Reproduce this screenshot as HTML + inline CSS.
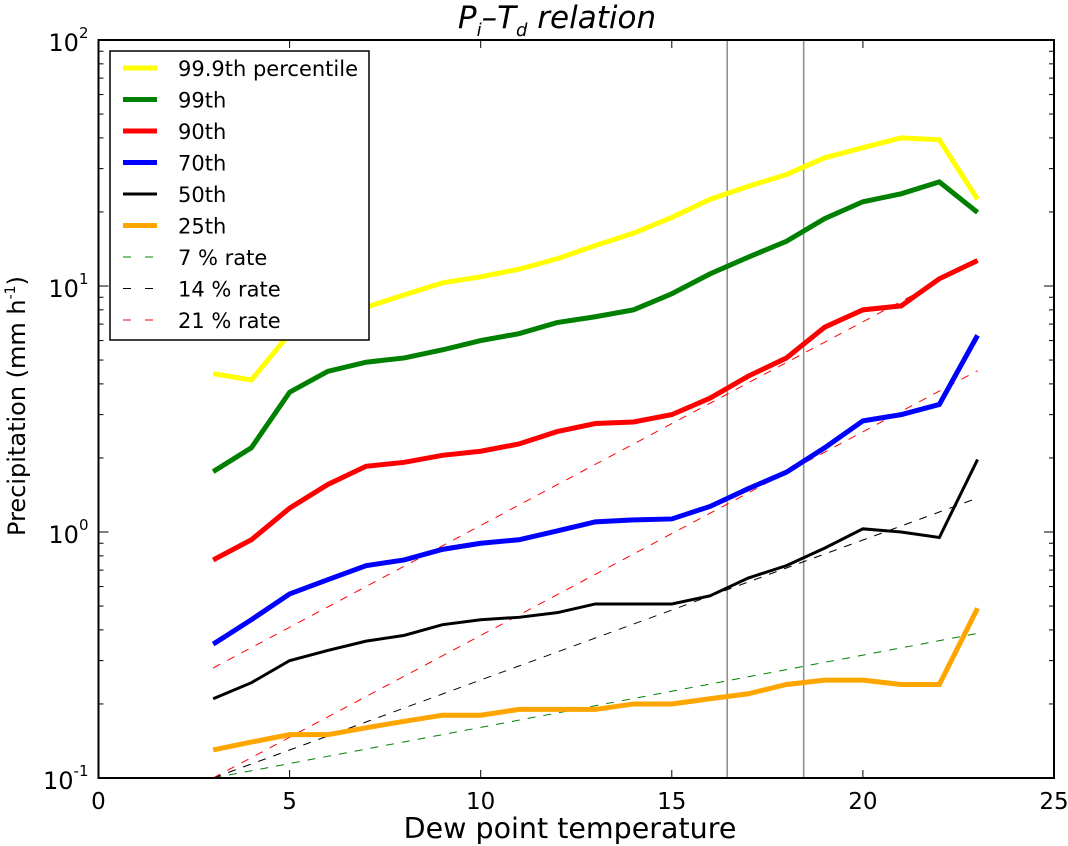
<!DOCTYPE html>
<html><head><meta charset="utf-8">
<style>
html,body{margin:0;padding:0;background:#fff;}
svg{display:block;font-family:"DejaVu Sans","Liberation Sans",sans-serif;}
</style></head>
<body>
<svg id="chart" width="1068" height="846" viewBox="0 0 1068 846" xmlns="http://www.w3.org/2000/svg">
<text x="557" y="28" text-anchor="middle" font-size="31" font-style="italic">P<tspan font-size="18" dy="8">i</tspan><tspan dy="-8">–T</tspan><tspan font-size="18" dy="8">d</tspan><tspan dy="-8"> relation</tspan></text>
<text x="570" y="838" text-anchor="middle" font-size="28.5">Dew point temperature</text>
<text transform="translate(25,406) rotate(-90)" text-anchor="middle" font-size="24">Precipitation (mm h<tspan font-size="14" dy="-10">-1</tspan><tspan dy="10">)</tspan></text>
<g id="plot"></g>
</svg>
<script>
const xTicks = [0,5,10,15,20,25];
const yDecades = [-1,0,1,2];
const xCats = [3,4,5,6,7,8,9,10,11,12,13,14,15,16,17,18,19,20,21,22,23];
const p999 = [4.4,4.15,6.4,7.4,8.2,9.2,10.3,10.9,11.7,12.9,14.6,16.4,19.0,22.5,25.4,28.4,33.2,36.5,40,39.3,22.5];
const p99 = [1.76,2.2,3.7,4.5,4.9,5.1,5.5,6.0,6.4,7.1,7.5,8.0,9.3,11.2,13.1,15.2,18.8,22.0,23.7,26.5,19.9];
const p90 = [0.77,0.93,1.25,1.56,1.85,1.92,2.05,2.13,2.28,2.56,2.76,2.8,3.0,3.5,4.3,5.1,6.8,8.0,8.3,10.7,12.7];
const p70 = [0.35,0.44,0.56,0.64,0.73,0.77,0.85,0.9,0.93,1.01,1.1,1.12,1.13,1.27,1.5,1.75,2.2,2.83,3.0,3.3,6.3];
const p50 = [0.21,0.244,0.30,0.33,0.36,0.38,0.42,0.44,0.45,0.47,0.51,0.51,0.51,0.55,0.65,0.73,0.86,1.03,1.0,0.95,1.97];
const p25 = [0.13,0.14,0.15,0.15,0.16,0.17,0.18,0.18,0.19,0.19,0.19,0.20,0.20,0.21,0.22,0.24,0.25,0.25,0.24,0.24,0.49];
const rateStart = [0.1,0.1,0.1,0.28];
const ratePct = [7,14,21,21];
const vLines = [16.45,18.45];

const NS="http://www.w3.org/2000/svg";
const L=98.5,R=1054,T=40,B=778;
const xs=v=>L+(v-0)/25*(R-L);
const ys=v=>T+(2-Math.log10(v))/3*(B-T);
const g=document.getElementById('plot');
function mk(tag,attrs,parent){const e=document.createElementNS(NS,tag);for(const k in attrs)e.setAttribute(k,attrs[k]);(parent||g).appendChild(e);return e;}

const clip=mk('clipPath',{id:'cp'});mk('rect',{x:L,y:T,width:R-L,height:B-T},clip);
const dg=mk('g',{'clip-path':'url(#cp)'});

vLines.forEach((v,i)=>{const e=mk('line',{x1:xs(v),x2:xs(v),y1:T,y2:B,stroke:'#8c8c8c','stroke-width':1.5},dg);

});

const rateColors={7:'#008000',14:'#000',21:'#ff0000'};
rateStart.forEach((s,i)=>{const pts=xCats.map(x=>xs(x)+','+ys(s*Math.pow(1+ratePct[i]/100,x-xCats[0]))).join(' ');
const e=mk('polyline',{points:pts,fill:'none',stroke:rateColors[ratePct[i]],'stroke-width':1,'stroke-dasharray':'8,8'},dg);

});

const series=[[p25,'#ffa500',5,'p25'],[p50,'#000',3,'p50'],[p70,'#0000ff',5,'p70'],[p90,'#ff0000',5,'p90'],[p99,'#008000',5,'p99'],[p999,'#ffff00',5,'p999']];
series.forEach(s=>{const pts=xCats.map((x,i)=>xs(x)+','+ys(s[0][i])).join(' ');
const e=mk('polyline',{points:pts,fill:'none',stroke:s[1],'stroke-width':s[2],'stroke-linejoin':'miter'},dg);

});

const fr=mk('rect',{x:L,y:T,width:R-L,height:B-T,fill:'none',stroke:'#000','stroke-width':2});



xTicks.forEach(t=>{const x=xs(t);
mk('line',{x1:x,x2:x,y1:B,y2:B-8,stroke:'#000','stroke-width':1});
mk('line',{x1:x,x2:x,y1:T,y2:T+8,stroke:'#000','stroke-width':1});
const e=mk('text',{x:x,y:B+31,'text-anchor':'middle','font-size':23});e.textContent=t;

});

yDecades.forEach(d=>{const y=ys(Math.pow(10,d));
mk('line',{x1:L,x2:L+10,y1:y,y2:y,stroke:'#000','stroke-width':1});
mk('line',{x1:R,x2:R-10,y1:y,y2:y,stroke:'#000','stroke-width':1});
const e=mk('text',{x:L-10,y:y+11,'text-anchor':'end','font-size':24});
e.textContent='10';const ts=document.createElementNS(NS,'tspan');ts.setAttribute('font-size',15);ts.setAttribute('dy',-13);ts.textContent=String(d);e.appendChild(ts);


if(d<2){for(let m=2;m<=9;m++){const yy=ys(m*Math.pow(10,d));
mk('line',{x1:L,x2:L+5,y1:yy,y2:yy,stroke:'#000','stroke-width':1});
mk('line',{x1:R,x2:R-5,y1:yy,y2:yy,stroke:'#000','stroke-width':1});}}});

const lg=mk('g',{});


mk('rect',{x:110,y:51,width:259,height:289,fill:'#fff',stroke:'#000','stroke-width':1.5},lg);
const legItems=[['99.9th percentile','#ffff00',5,0],['99th','#008000',5,0],['90th','#ff0000',5,0],['70th','#0000ff',5,0],['50th','#000',3,0],['25th','#ffa500',5,0],['7 % rate','#008000',1,1],['14 % rate','#000',1,1],['21 % rate','#ff0000',1,1]];
legItems.forEach((it,i)=>{const y=68+i*31.5;
const ln=mk('line',{x1:123,x2:157,y1:y,y2:y,stroke:it[1],'stroke-width':it[2],'stroke-dasharray':it[3]?'8,14':'none'},lg);


const t=mk('text',{x:178,y:y+8,'font-size':21},lg);t.textContent=it[0];

});
</script>
</body></html>
